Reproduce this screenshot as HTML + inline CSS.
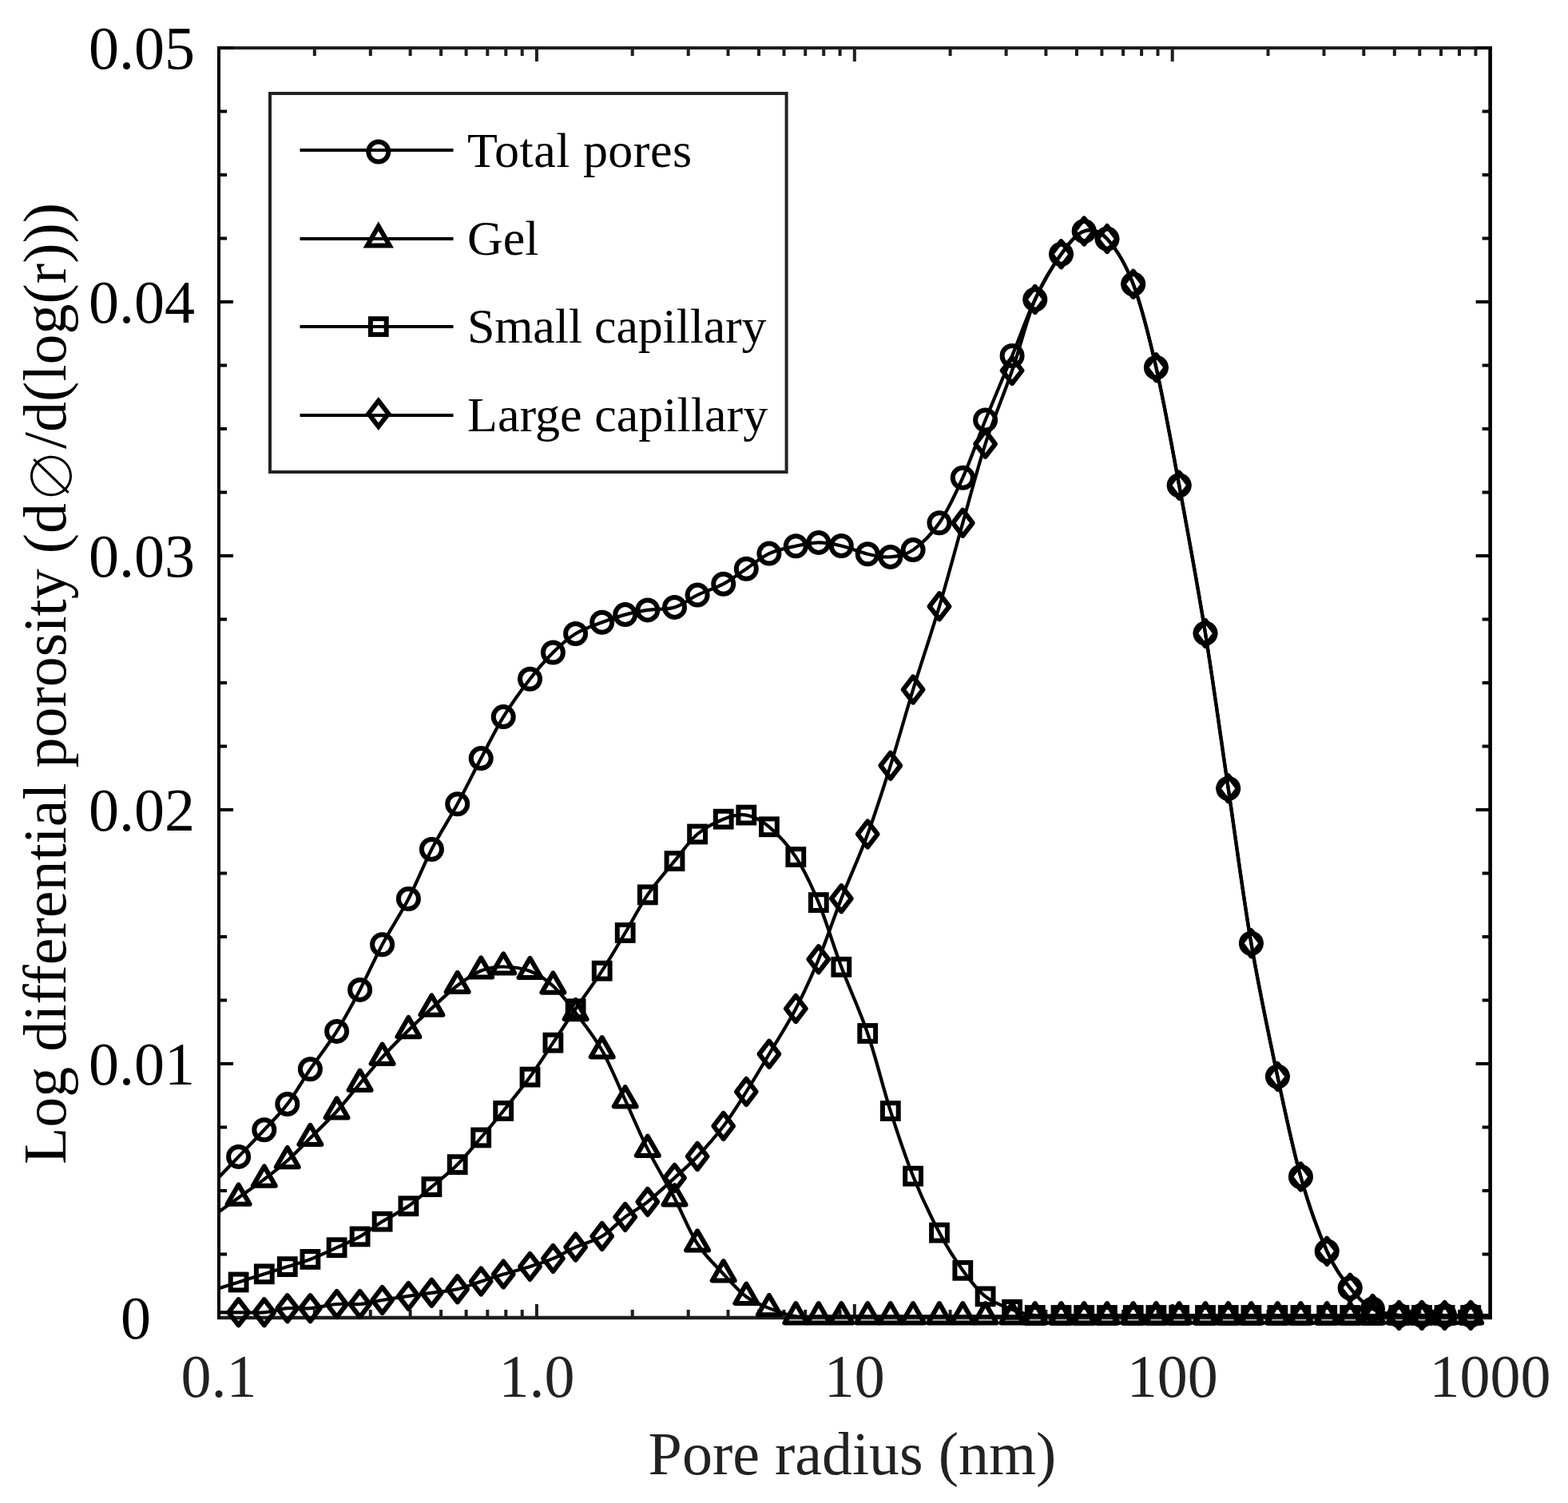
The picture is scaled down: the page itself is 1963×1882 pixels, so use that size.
<!DOCTYPE html><html><head><meta charset="utf-8"><title>Pore size distribution</title>
<style>html,body{margin:0;padding:0;background:#fff;}svg{display:block;}text{font-family:"Liberation Serif","Times New Roman",serif;}</style></head><body>
<svg width="1963" height="1882" viewBox="0 0 1963 1882">
<rect width="1963" height="1882" fill="#fff"/>
<defs><clipPath id="pc"><rect x="274.0" y="60.0" width="1591.6" height="1590.0"/></clipPath></defs>
<g stroke-linecap="butt" fill="none">
<line x1="272.0" y1="58" x2="1867.6" y2="58" stroke="#1e1e1e" stroke-width="4" transform="translate(0,2)"/>
<line x1="272.0" y1="1650.0" x2="1867.6" y2="1650.0" stroke="#1e1e1e" stroke-width="4.4"/>
<line x1="274.0" y1="58.0" x2="274.0" y2="1652.0" stroke="#000" stroke-width="4"/>
<line x1="1865.6" y1="58.0" x2="1865.6" y2="1652.0" stroke="#000" stroke-width="4.6"/>
<line x1="393.8" y1="1650.0" x2="393.8" y2="1640.0" stroke="#1e1e1e" stroke-width="4"/>
<line x1="393.8" y1="60.0" x2="393.8" y2="70.0" stroke="#1e1e1e" stroke-width="4"/>
<line x1="463.8" y1="1650.0" x2="463.8" y2="1640.0" stroke="#1e1e1e" stroke-width="4"/>
<line x1="463.8" y1="60.0" x2="463.8" y2="70.0" stroke="#1e1e1e" stroke-width="4"/>
<line x1="513.6" y1="1650.0" x2="513.6" y2="1640.0" stroke="#1e1e1e" stroke-width="4"/>
<line x1="513.6" y1="60.0" x2="513.6" y2="70.0" stroke="#1e1e1e" stroke-width="4"/>
<line x1="552.1" y1="1650.0" x2="552.1" y2="1640.0" stroke="#1e1e1e" stroke-width="4"/>
<line x1="552.1" y1="60.0" x2="552.1" y2="70.0" stroke="#1e1e1e" stroke-width="4"/>
<line x1="583.6" y1="1650.0" x2="583.6" y2="1640.0" stroke="#1e1e1e" stroke-width="4"/>
<line x1="583.6" y1="60.0" x2="583.6" y2="70.0" stroke="#1e1e1e" stroke-width="4"/>
<line x1="610.3" y1="1650.0" x2="610.3" y2="1640.0" stroke="#1e1e1e" stroke-width="4"/>
<line x1="610.3" y1="60.0" x2="610.3" y2="70.0" stroke="#1e1e1e" stroke-width="4"/>
<line x1="633.3" y1="1650.0" x2="633.3" y2="1640.0" stroke="#1e1e1e" stroke-width="4"/>
<line x1="633.3" y1="60.0" x2="633.3" y2="70.0" stroke="#1e1e1e" stroke-width="4"/>
<line x1="653.7" y1="1650.0" x2="653.7" y2="1640.0" stroke="#1e1e1e" stroke-width="4"/>
<line x1="653.7" y1="60.0" x2="653.7" y2="70.0" stroke="#1e1e1e" stroke-width="4"/>
<line x1="671.9" y1="1650.0" x2="671.9" y2="1633.0" stroke="#1e1e1e" stroke-width="4"/>
<line x1="671.9" y1="60.0" x2="671.9" y2="77.0" stroke="#1e1e1e" stroke-width="4"/>
<line x1="791.7" y1="1650.0" x2="791.7" y2="1640.0" stroke="#1e1e1e" stroke-width="4"/>
<line x1="791.7" y1="60.0" x2="791.7" y2="70.0" stroke="#1e1e1e" stroke-width="4"/>
<line x1="861.7" y1="1650.0" x2="861.7" y2="1640.0" stroke="#1e1e1e" stroke-width="4"/>
<line x1="861.7" y1="60.0" x2="861.7" y2="70.0" stroke="#1e1e1e" stroke-width="4"/>
<line x1="911.5" y1="1650.0" x2="911.5" y2="1640.0" stroke="#1e1e1e" stroke-width="4"/>
<line x1="911.5" y1="60.0" x2="911.5" y2="70.0" stroke="#1e1e1e" stroke-width="4"/>
<line x1="950.0" y1="1650.0" x2="950.0" y2="1640.0" stroke="#1e1e1e" stroke-width="4"/>
<line x1="950.0" y1="60.0" x2="950.0" y2="70.0" stroke="#1e1e1e" stroke-width="4"/>
<line x1="981.5" y1="1650.0" x2="981.5" y2="1640.0" stroke="#1e1e1e" stroke-width="4"/>
<line x1="981.5" y1="60.0" x2="981.5" y2="70.0" stroke="#1e1e1e" stroke-width="4"/>
<line x1="1008.2" y1="1650.0" x2="1008.2" y2="1640.0" stroke="#1e1e1e" stroke-width="4"/>
<line x1="1008.2" y1="60.0" x2="1008.2" y2="70.0" stroke="#1e1e1e" stroke-width="4"/>
<line x1="1031.2" y1="1650.0" x2="1031.2" y2="1640.0" stroke="#1e1e1e" stroke-width="4"/>
<line x1="1031.2" y1="60.0" x2="1031.2" y2="70.0" stroke="#1e1e1e" stroke-width="4"/>
<line x1="1051.6" y1="1650.0" x2="1051.6" y2="1640.0" stroke="#1e1e1e" stroke-width="4"/>
<line x1="1051.6" y1="60.0" x2="1051.6" y2="70.0" stroke="#1e1e1e" stroke-width="4"/>
<line x1="1069.8" y1="1650.0" x2="1069.8" y2="1633.0" stroke="#1e1e1e" stroke-width="4"/>
<line x1="1069.8" y1="60.0" x2="1069.8" y2="77.0" stroke="#1e1e1e" stroke-width="4"/>
<line x1="1189.6" y1="1650.0" x2="1189.6" y2="1640.0" stroke="#1e1e1e" stroke-width="4"/>
<line x1="1189.6" y1="60.0" x2="1189.6" y2="70.0" stroke="#1e1e1e" stroke-width="4"/>
<line x1="1259.6" y1="1650.0" x2="1259.6" y2="1640.0" stroke="#1e1e1e" stroke-width="4"/>
<line x1="1259.6" y1="60.0" x2="1259.6" y2="70.0" stroke="#1e1e1e" stroke-width="4"/>
<line x1="1309.4" y1="1650.0" x2="1309.4" y2="1640.0" stroke="#1e1e1e" stroke-width="4"/>
<line x1="1309.4" y1="60.0" x2="1309.4" y2="70.0" stroke="#1e1e1e" stroke-width="4"/>
<line x1="1347.9" y1="1650.0" x2="1347.9" y2="1640.0" stroke="#1e1e1e" stroke-width="4"/>
<line x1="1347.9" y1="60.0" x2="1347.9" y2="70.0" stroke="#1e1e1e" stroke-width="4"/>
<line x1="1379.4" y1="1650.0" x2="1379.4" y2="1640.0" stroke="#1e1e1e" stroke-width="4"/>
<line x1="1379.4" y1="60.0" x2="1379.4" y2="70.0" stroke="#1e1e1e" stroke-width="4"/>
<line x1="1406.1" y1="1650.0" x2="1406.1" y2="1640.0" stroke="#1e1e1e" stroke-width="4"/>
<line x1="1406.1" y1="60.0" x2="1406.1" y2="70.0" stroke="#1e1e1e" stroke-width="4"/>
<line x1="1429.1" y1="1650.0" x2="1429.1" y2="1640.0" stroke="#1e1e1e" stroke-width="4"/>
<line x1="1429.1" y1="60.0" x2="1429.1" y2="70.0" stroke="#1e1e1e" stroke-width="4"/>
<line x1="1449.5" y1="1650.0" x2="1449.5" y2="1640.0" stroke="#1e1e1e" stroke-width="4"/>
<line x1="1449.5" y1="60.0" x2="1449.5" y2="70.0" stroke="#1e1e1e" stroke-width="4"/>
<line x1="1467.7" y1="1650.0" x2="1467.7" y2="1633.0" stroke="#1e1e1e" stroke-width="4"/>
<line x1="1467.7" y1="60.0" x2="1467.7" y2="77.0" stroke="#1e1e1e" stroke-width="4"/>
<line x1="1587.5" y1="1650.0" x2="1587.5" y2="1640.0" stroke="#1e1e1e" stroke-width="4"/>
<line x1="1587.5" y1="60.0" x2="1587.5" y2="70.0" stroke="#1e1e1e" stroke-width="4"/>
<line x1="1657.5" y1="1650.0" x2="1657.5" y2="1640.0" stroke="#1e1e1e" stroke-width="4"/>
<line x1="1657.5" y1="60.0" x2="1657.5" y2="70.0" stroke="#1e1e1e" stroke-width="4"/>
<line x1="1707.3" y1="1650.0" x2="1707.3" y2="1640.0" stroke="#1e1e1e" stroke-width="4"/>
<line x1="1707.3" y1="60.0" x2="1707.3" y2="70.0" stroke="#1e1e1e" stroke-width="4"/>
<line x1="1745.8" y1="1650.0" x2="1745.8" y2="1640.0" stroke="#1e1e1e" stroke-width="4"/>
<line x1="1745.8" y1="60.0" x2="1745.8" y2="70.0" stroke="#1e1e1e" stroke-width="4"/>
<line x1="1777.3" y1="1650.0" x2="1777.3" y2="1640.0" stroke="#1e1e1e" stroke-width="4"/>
<line x1="1777.3" y1="60.0" x2="1777.3" y2="70.0" stroke="#1e1e1e" stroke-width="4"/>
<line x1="1804.0" y1="1650.0" x2="1804.0" y2="1640.0" stroke="#1e1e1e" stroke-width="4"/>
<line x1="1804.0" y1="60.0" x2="1804.0" y2="70.0" stroke="#1e1e1e" stroke-width="4"/>
<line x1="1827.0" y1="1650.0" x2="1827.0" y2="1640.0" stroke="#1e1e1e" stroke-width="4"/>
<line x1="1827.0" y1="60.0" x2="1827.0" y2="70.0" stroke="#1e1e1e" stroke-width="4"/>
<line x1="1847.4" y1="1650.0" x2="1847.4" y2="1640.0" stroke="#1e1e1e" stroke-width="4"/>
<line x1="1847.4" y1="60.0" x2="1847.4" y2="70.0" stroke="#1e1e1e" stroke-width="4"/>
<line x1="274.0" y1="1570.5" x2="284.0" y2="1570.5" stroke="#000" stroke-width="4"/>
<line x1="1865.6" y1="1570.5" x2="1855.6" y2="1570.5" stroke="#000" stroke-width="4"/>
<line x1="274.0" y1="1491.0" x2="284.0" y2="1491.0" stroke="#000" stroke-width="4"/>
<line x1="1865.6" y1="1491.0" x2="1855.6" y2="1491.0" stroke="#000" stroke-width="4"/>
<line x1="274.0" y1="1411.5" x2="284.0" y2="1411.5" stroke="#000" stroke-width="4"/>
<line x1="1865.6" y1="1411.5" x2="1855.6" y2="1411.5" stroke="#000" stroke-width="4"/>
<line x1="274.0" y1="1332.0" x2="292.0" y2="1332.0" stroke="#000" stroke-width="4"/>
<line x1="1865.6" y1="1332.0" x2="1847.6" y2="1332.0" stroke="#000" stroke-width="4"/>
<line x1="274.0" y1="1252.5" x2="284.0" y2="1252.5" stroke="#000" stroke-width="4"/>
<line x1="1865.6" y1="1252.5" x2="1855.6" y2="1252.5" stroke="#000" stroke-width="4"/>
<line x1="274.0" y1="1173.0" x2="284.0" y2="1173.0" stroke="#000" stroke-width="4"/>
<line x1="1865.6" y1="1173.0" x2="1855.6" y2="1173.0" stroke="#000" stroke-width="4"/>
<line x1="274.0" y1="1093.5" x2="284.0" y2="1093.5" stroke="#000" stroke-width="4"/>
<line x1="1865.6" y1="1093.5" x2="1855.6" y2="1093.5" stroke="#000" stroke-width="4"/>
<line x1="274.0" y1="1014.0" x2="292.0" y2="1014.0" stroke="#000" stroke-width="4"/>
<line x1="1865.6" y1="1014.0" x2="1847.6" y2="1014.0" stroke="#000" stroke-width="4"/>
<line x1="274.0" y1="934.5" x2="284.0" y2="934.5" stroke="#000" stroke-width="4"/>
<line x1="1865.6" y1="934.5" x2="1855.6" y2="934.5" stroke="#000" stroke-width="4"/>
<line x1="274.0" y1="855.0" x2="284.0" y2="855.0" stroke="#000" stroke-width="4"/>
<line x1="1865.6" y1="855.0" x2="1855.6" y2="855.0" stroke="#000" stroke-width="4"/>
<line x1="274.0" y1="775.5" x2="284.0" y2="775.5" stroke="#000" stroke-width="4"/>
<line x1="1865.6" y1="775.5" x2="1855.6" y2="775.5" stroke="#000" stroke-width="4"/>
<line x1="274.0" y1="696.0" x2="292.0" y2="696.0" stroke="#000" stroke-width="4"/>
<line x1="1865.6" y1="696.0" x2="1847.6" y2="696.0" stroke="#000" stroke-width="4"/>
<line x1="274.0" y1="616.5" x2="284.0" y2="616.5" stroke="#000" stroke-width="4"/>
<line x1="1865.6" y1="616.5" x2="1855.6" y2="616.5" stroke="#000" stroke-width="4"/>
<line x1="274.0" y1="537.0" x2="284.0" y2="537.0" stroke="#000" stroke-width="4"/>
<line x1="1865.6" y1="537.0" x2="1855.6" y2="537.0" stroke="#000" stroke-width="4"/>
<line x1="274.0" y1="457.5" x2="284.0" y2="457.5" stroke="#000" stroke-width="4"/>
<line x1="1865.6" y1="457.5" x2="1855.6" y2="457.5" stroke="#000" stroke-width="4"/>
<line x1="274.0" y1="378.0" x2="292.0" y2="378.0" stroke="#000" stroke-width="4"/>
<line x1="1865.6" y1="378.0" x2="1847.6" y2="378.0" stroke="#000" stroke-width="4"/>
<line x1="274.0" y1="298.5" x2="284.0" y2="298.5" stroke="#000" stroke-width="4"/>
<line x1="1865.6" y1="298.5" x2="1855.6" y2="298.5" stroke="#000" stroke-width="4"/>
<line x1="274.0" y1="219.0" x2="284.0" y2="219.0" stroke="#000" stroke-width="4"/>
<line x1="1865.6" y1="219.0" x2="1855.6" y2="219.0" stroke="#000" stroke-width="4"/>
<line x1="274.0" y1="139.5" x2="284.0" y2="139.5" stroke="#000" stroke-width="4"/>
<line x1="1865.6" y1="139.5" x2="1855.6" y2="139.5" stroke="#000" stroke-width="4"/>
<line x1="274.0" y1="60.0" x2="292.0" y2="60.0" stroke="#000" stroke-width="4"/>
<line x1="1865.6" y1="60.0" x2="1847.6" y2="60.0" stroke="#000" stroke-width="4"/>
</g>
<g fill="none" stroke="#000" stroke-width="4.2" stroke-linejoin="round" clip-path="url(#pc)">
<path d="M266.4,1482.1 C271.8,1476.5 287.9,1459.6 298.6,1448.4 C309.3,1437.2 320.6,1425.7 330.8,1414.7 C341.0,1403.7 350.2,1395.2 359.8,1382.5 C369.4,1369.8 378.1,1354.0 388.4,1338.8 C398.7,1323.6 411.2,1308.0 421.6,1291.4 C432.0,1274.8 441.1,1257.5 450.6,1239.4 C460.1,1221.3 468.5,1201.7 478.6,1182.7 C488.7,1163.7 501.1,1145.4 511.4,1125.5 C521.7,1105.6 530.2,1083.3 540.4,1063.5 C550.6,1043.7 562.4,1025.7 572.7,1006.7 C583.0,987.7 592.6,967.8 602.2,949.6 C611.8,931.4 620.0,914.2 630.2,897.6 C640.4,881.0 653.1,863.6 663.5,850.2 C673.9,836.8 682.9,826.5 692.4,817.0 C701.9,807.5 710.4,799.8 720.6,793.5 C730.8,787.2 743.4,783.2 753.7,779.2 C764.1,775.2 773.2,772.2 782.7,769.6 C792.2,767.0 800.5,765.4 810.8,763.9 C821.1,762.4 834.1,763.5 844.5,760.4 C854.9,757.3 862.9,750.0 873.1,745.1 C883.3,740.2 895.5,736.7 905.7,731.2 C915.9,725.7 924.8,718.6 934.3,712.2 C943.8,705.9 952.6,697.9 962.9,693.1 C973.2,688.4 986.0,686.0 996.3,683.7 C1006.6,681.4 1015.3,679.4 1024.8,679.4 C1034.3,679.4 1043.1,681.1 1053.3,683.5 C1063.5,685.9 1076.0,691.4 1086.2,693.7 C1096.5,696.0 1105.3,698.2 1114.8,697.4 C1124.3,696.5 1132.9,695.7 1143.1,688.6 C1153.3,681.5 1165.6,669.8 1176.0,654.7 C1186.4,639.6 1195.7,619.7 1205.3,598.2 C1214.9,576.8 1223.3,551.5 1233.6,526.0 C1243.9,500.6 1256.7,470.7 1267.1,445.5 C1277.5,420.3 1285.6,396.2 1295.8,375.0 C1306.0,353.8 1318.3,332.6 1328.5,318.3 C1338.7,304.1 1347.6,292.7 1357.2,289.5 C1366.8,286.3 1375.8,288.1 1386.0,299.1 C1396.2,310.2 1408.5,329.0 1418.7,355.8 C1428.9,382.6 1437.8,418.2 1447.4,460.2 C1457.0,502.2 1465.9,552.2 1476.2,607.7 C1486.5,663.2 1498.8,729.7 1509.0,793.0 C1519.2,856.3 1528.1,922.6 1537.7,987.3 C1547.3,1052.0 1556.1,1121.1 1566.4,1181.2 C1576.7,1241.3 1589.1,1299.3 1599.4,1348.0 C1609.7,1396.7 1618.1,1437.0 1628.4,1473.5 C1638.7,1510.0 1650.9,1543.5 1661.2,1566.7 C1671.5,1589.9 1680.7,1600.7 1690.2,1612.7 C1699.7,1624.8 1708.2,1633.3 1718.4,1639.0 C1728.6,1644.7 1741.1,1645.7 1751.4,1647.0 C1761.7,1648.3 1770.5,1647.0 1780.0,1647.0 C1789.5,1647.0 1798.4,1647.0 1808.6,1647.0 C1818.8,1647.0 1830.3,1647.0 1841.2,1647.0 C1852.1,1647.0 1868.4,1647.0 1873.8,1647.0"/>
<path d="M266.4,1522.8 C271.8,1519.0 287.9,1507.4 298.6,1499.7 C309.3,1492.0 320.6,1484.3 330.8,1476.6 C341.0,1468.8 350.2,1461.8 359.8,1453.2 C369.4,1444.6 378.1,1435.3 388.4,1425.0 C398.7,1414.7 411.2,1402.9 421.6,1391.5 C432.0,1380.1 441.1,1368.1 450.6,1356.8 C460.1,1345.5 468.5,1334.9 478.6,1323.8 C488.7,1312.7 501.1,1300.3 511.4,1290.1 C521.7,1279.9 530.2,1271.9 540.4,1262.6 C550.6,1253.2 562.4,1241.8 572.7,1234.0 C583.0,1226.2 592.6,1219.4 602.2,1215.5 C611.8,1211.6 620.0,1210.4 630.2,1210.5 C640.4,1210.6 653.1,1212.0 663.5,1216.0 C673.9,1220.0 682.9,1225.9 692.4,1234.6 C701.9,1243.3 710.4,1254.6 720.6,1268.1 C730.8,1281.5 743.4,1297.1 753.7,1315.3 C764.1,1333.5 773.2,1356.8 782.7,1377.4 C792.2,1398.0 800.5,1418.4 810.8,1438.9 C821.1,1459.4 834.1,1480.6 844.5,1500.4 C854.9,1520.2 862.9,1541.7 873.1,1557.5 C883.3,1573.3 895.5,1584.2 905.7,1595.3 C915.9,1606.3 924.8,1616.7 934.3,1623.8 C943.8,1630.9 952.6,1634.0 962.9,1638.1 C973.2,1642.2 986.0,1646.6 996.3,1648.3 C1006.6,1650.0 1015.3,1648.3 1024.8,1648.3 C1034.3,1648.3 1043.1,1648.3 1053.3,1648.3 C1063.5,1648.3 1076.0,1648.3 1086.2,1648.3 C1096.5,1648.3 1105.3,1648.3 1114.8,1648.3 C1124.3,1648.3 1132.9,1648.3 1143.1,1648.3 C1153.3,1648.3 1165.6,1648.3 1176.0,1648.3 C1186.4,1648.3 1195.7,1648.3 1205.3,1648.3 C1214.9,1648.3 1223.3,1648.3 1233.6,1648.3 C1243.9,1648.3 1256.7,1648.3 1267.1,1648.3 C1277.5,1648.3 1285.6,1648.3 1295.8,1648.3 C1306.0,1648.3 1318.3,1648.3 1328.5,1648.3 C1338.7,1648.3 1347.6,1648.3 1357.2,1648.3 C1366.8,1648.3 1375.8,1648.3 1386.0,1648.3 C1396.2,1648.3 1408.5,1648.3 1418.7,1648.3 C1428.9,1648.3 1437.8,1648.3 1447.4,1648.3 C1457.0,1648.3 1465.9,1648.3 1476.2,1648.3 C1486.5,1648.3 1498.8,1648.3 1509.0,1648.3 C1519.2,1648.3 1528.1,1648.3 1537.7,1648.3 C1547.3,1648.3 1556.1,1648.3 1566.4,1648.3 C1576.7,1648.3 1589.1,1648.3 1599.4,1648.3 C1609.7,1648.3 1618.1,1648.3 1628.4,1648.3 C1638.7,1648.3 1650.9,1648.3 1661.2,1648.3 C1671.5,1648.3 1680.7,1648.3 1690.2,1648.3 C1699.7,1648.3 1708.2,1648.3 1718.4,1648.3 C1728.6,1648.3 1741.1,1648.3 1751.4,1648.3 C1761.7,1648.3 1770.5,1648.3 1780.0,1648.3 C1789.5,1648.3 1798.4,1648.3 1808.6,1648.3 C1818.8,1648.3 1830.3,1648.3 1841.2,1648.3 C1852.1,1648.3 1868.4,1648.3 1873.8,1648.3"/>
<path d="M266.4,1615.7 C271.8,1614.0 287.9,1608.9 298.6,1605.5 C309.3,1602.1 320.6,1598.5 330.8,1595.3 C341.0,1592.1 350.2,1589.2 359.8,1586.1 C369.4,1583.0 378.1,1580.9 388.4,1576.9 C398.7,1572.9 411.2,1567.0 421.6,1562.2 C432.0,1557.5 441.1,1553.8 450.6,1548.4 C460.1,1543.0 468.5,1536.0 478.6,1529.6 C488.7,1523.2 501.1,1517.5 511.4,1510.2 C521.7,1503.0 530.2,1494.8 540.4,1486.1 C550.6,1477.4 562.4,1468.5 572.7,1458.2 C583.0,1447.9 592.6,1435.7 602.2,1424.5 C611.8,1413.3 620.0,1403.7 630.2,1391.0 C640.4,1378.3 653.1,1362.8 663.5,1348.6 C673.9,1334.4 682.9,1319.9 692.4,1305.7 C701.9,1291.5 710.4,1278.3 720.6,1263.3 C730.8,1248.3 743.4,1231.6 753.7,1215.7 C764.1,1199.8 773.2,1183.9 782.7,1168.0 C792.2,1152.1 800.5,1135.4 810.8,1120.4 C821.1,1105.4 834.1,1090.9 844.5,1078.2 C854.9,1065.5 862.9,1053.2 873.1,1044.5 C883.3,1035.8 895.5,1029.7 905.7,1025.7 C915.9,1021.7 924.8,1019.0 934.3,1020.6 C943.8,1022.2 952.6,1026.5 962.9,1035.3 C973.2,1044.0 986.0,1057.3 996.3,1073.1 C1006.6,1088.9 1015.3,1107.1 1024.8,1130.1 C1034.3,1153.0 1043.1,1183.5 1053.3,1210.8 C1063.5,1238.1 1076.0,1264.0 1086.2,1294.0 C1096.5,1324.0 1105.3,1361.3 1114.8,1391.1 C1124.3,1420.9 1132.9,1447.3 1143.1,1472.7 C1153.3,1498.1 1165.6,1523.9 1176.0,1543.6 C1186.4,1563.3 1195.7,1577.5 1205.3,1590.8 C1214.9,1604.1 1223.3,1615.2 1233.6,1623.4 C1243.9,1631.6 1256.7,1635.9 1267.1,1639.8 C1277.5,1643.7 1285.6,1645.8 1295.8,1647.0 C1306.0,1648.2 1318.3,1647.0 1328.5,1647.0 C1338.7,1647.0 1347.6,1647.0 1357.2,1647.0 C1366.8,1647.0 1375.8,1647.0 1386.0,1647.0 C1396.2,1647.0 1408.5,1647.0 1418.7,1647.0 C1428.9,1647.0 1437.8,1647.0 1447.4,1647.0 C1457.0,1647.0 1465.9,1647.0 1476.2,1647.0 C1486.5,1647.0 1498.8,1647.0 1509.0,1647.0 C1519.2,1647.0 1528.1,1647.0 1537.7,1647.0 C1547.3,1647.0 1556.1,1647.0 1566.4,1647.0 C1576.7,1647.0 1589.1,1647.0 1599.4,1647.0 C1609.7,1647.0 1618.1,1647.0 1628.4,1647.0 C1638.7,1647.0 1650.9,1647.0 1661.2,1647.0 C1671.5,1647.0 1680.7,1647.0 1690.2,1647.0 C1699.7,1647.0 1708.2,1647.0 1718.4,1647.0 C1728.6,1647.0 1741.1,1647.0 1751.4,1647.0 C1761.7,1647.0 1770.5,1647.0 1780.0,1647.0 C1789.5,1647.0 1798.4,1647.0 1808.6,1647.0 C1818.8,1647.0 1830.3,1647.0 1841.2,1647.0 C1852.1,1647.0 1868.4,1647.0 1873.8,1647.0"/>
<path d="M266.4,1643.3 C271.8,1643.3 287.9,1643.3 298.6,1643.3 C309.3,1643.3 320.6,1644.1 330.8,1643.3 C341.0,1642.5 350.2,1639.0 359.8,1638.2 C369.4,1637.4 378.1,1639.1 388.4,1638.2 C398.7,1637.3 411.2,1633.9 421.6,1633.0 C432.0,1632.1 441.1,1633.8 450.6,1633.0 C460.1,1632.2 468.5,1629.7 478.6,1628.0 C488.7,1626.3 501.1,1624.4 511.4,1622.9 C521.7,1621.4 530.2,1620.2 540.4,1618.8 C550.6,1617.4 562.4,1616.7 572.7,1614.3 C583.0,1611.9 592.6,1607.6 602.2,1604.5 C611.8,1601.4 620.0,1598.7 630.2,1595.6 C640.4,1592.5 653.1,1589.2 663.5,1585.9 C673.9,1582.6 682.9,1580.0 692.4,1575.9 C701.9,1571.9 710.4,1566.2 720.6,1561.6 C730.8,1556.9 743.4,1554.3 753.7,1548.0 C764.1,1541.7 773.2,1531.1 782.7,1523.9 C792.2,1516.7 800.5,1513.1 810.8,1504.9 C821.1,1496.7 834.1,1484.4 844.5,1474.9 C854.9,1465.4 862.9,1458.8 873.1,1448.0 C883.3,1437.2 895.5,1423.5 905.7,1410.0 C915.9,1396.5 924.8,1382.0 934.3,1367.0 C943.8,1352.0 952.6,1337.1 962.9,1319.8 C973.2,1302.5 986.0,1282.8 996.3,1263.0 C1006.6,1243.2 1015.3,1224.2 1024.8,1201.2 C1034.3,1178.2 1043.1,1151.3 1053.3,1125.2 C1063.5,1099.1 1076.0,1072.2 1086.2,1044.5 C1096.5,1016.8 1105.3,988.9 1114.8,958.7 C1124.3,928.5 1132.9,896.7 1143.1,863.5 C1153.3,830.3 1165.6,794.1 1176.0,759.3 C1186.4,724.5 1195.7,688.7 1205.3,654.8 C1214.9,620.9 1223.3,587.6 1233.6,555.8 C1243.9,524.0 1256.7,494.1 1267.1,464.0 C1277.5,433.9 1285.6,399.3 1295.8,375.0 C1306.0,350.7 1318.3,332.6 1328.5,318.3 C1338.7,304.1 1347.6,292.7 1357.2,289.5 C1366.8,286.3 1375.8,288.1 1386.0,299.1 C1396.2,310.2 1408.5,329.0 1418.7,355.8 C1428.9,382.6 1437.8,418.2 1447.4,460.2 C1457.0,502.2 1465.9,552.2 1476.2,607.7 C1486.5,663.2 1498.8,729.7 1509.0,793.0 C1519.2,856.3 1528.1,922.6 1537.7,987.3 C1547.3,1052.0 1556.1,1121.1 1566.4,1181.2 C1576.7,1241.3 1589.1,1299.3 1599.4,1348.0 C1609.7,1396.7 1618.1,1437.0 1628.4,1473.5 C1638.7,1510.0 1650.9,1543.5 1661.2,1566.7 C1671.5,1589.9 1680.7,1600.7 1690.2,1612.7 C1699.7,1624.8 1708.2,1633.3 1718.4,1639.0 C1728.6,1644.7 1741.1,1645.7 1751.4,1647.0 C1761.7,1648.3 1770.5,1647.0 1780.0,1647.0 C1789.5,1647.0 1798.4,1647.0 1808.6,1647.0 C1818.8,1647.0 1830.3,1647.0 1841.2,1647.0 C1852.1,1647.0 1868.4,1647.0 1873.8,1647.0"/>
</g>
<g fill="none" stroke="#000" stroke-width="6.0" stroke-linejoin="round">
<circle cx="298.6" cy="1448.4" r="12.5"/>
<circle cx="330.8" cy="1414.7" r="12.5"/>
<circle cx="359.8" cy="1382.5" r="12.5"/>
<circle cx="388.4" cy="1338.8" r="12.5"/>
<circle cx="421.6" cy="1291.4" r="12.5"/>
<circle cx="450.6" cy="1239.4" r="12.5"/>
<circle cx="478.6" cy="1182.7" r="12.5"/>
<circle cx="511.4" cy="1125.5" r="12.5"/>
<circle cx="540.4" cy="1063.5" r="12.5"/>
<circle cx="572.7" cy="1006.7" r="12.5"/>
<circle cx="602.2" cy="949.6" r="12.5"/>
<circle cx="630.2" cy="897.6" r="12.5"/>
<circle cx="663.5" cy="850.2" r="12.5"/>
<circle cx="692.4" cy="817.0" r="12.5"/>
<circle cx="720.6" cy="793.5" r="12.5"/>
<circle cx="753.7" cy="779.2" r="12.5"/>
<circle cx="782.7" cy="769.6" r="12.5"/>
<circle cx="810.8" cy="763.9" r="12.5"/>
<circle cx="844.5" cy="760.4" r="12.5"/>
<circle cx="873.1" cy="745.1" r="12.5"/>
<circle cx="905.7" cy="731.2" r="12.5"/>
<circle cx="934.3" cy="712.2" r="12.5"/>
<circle cx="962.9" cy="693.1" r="12.5"/>
<circle cx="996.3" cy="683.7" r="12.5"/>
<circle cx="1024.8" cy="679.4" r="12.5"/>
<circle cx="1053.3" cy="683.5" r="12.5"/>
<circle cx="1086.2" cy="693.7" r="12.5"/>
<circle cx="1114.8" cy="697.4" r="12.5"/>
<circle cx="1143.1" cy="688.6" r="12.5"/>
<circle cx="1176.0" cy="654.7" r="12.5"/>
<circle cx="1205.3" cy="598.2" r="12.5"/>
<circle cx="1233.6" cy="526.0" r="12.5"/>
<circle cx="1267.1" cy="445.5" r="12.5"/>
<circle cx="1295.8" cy="375.0" r="12.5"/>
<circle cx="1328.5" cy="318.3" r="12.5"/>
<circle cx="1357.2" cy="289.5" r="12.5"/>
<circle cx="1386.0" cy="299.1" r="12.5"/>
<circle cx="1418.7" cy="355.8" r="12.5"/>
<circle cx="1447.4" cy="460.2" r="12.5"/>
<circle cx="1476.2" cy="607.7" r="12.5"/>
<circle cx="1509.0" cy="793.0" r="12.5"/>
<circle cx="1537.7" cy="987.3" r="12.5"/>
<circle cx="1566.4" cy="1181.2" r="12.5"/>
<circle cx="1599.4" cy="1348.0" r="12.5"/>
<circle cx="1628.4" cy="1473.5" r="12.5"/>
<circle cx="1661.2" cy="1566.7" r="12.5"/>
<circle cx="1690.2" cy="1612.7" r="12.5"/>
<circle cx="1718.4" cy="1639.0" r="12.5"/>
<circle cx="1751.4" cy="1647.0" r="12.5"/>
<circle cx="1780.0" cy="1647.0" r="12.5"/>
<circle cx="1808.6" cy="1647.0" r="12.5"/>
<circle cx="1841.2" cy="1647.0" r="12.5"/>
</g><g fill="none" stroke="#000" stroke-width="6.0" stroke-linejoin="round">
<path d="M298.6,1483.5 L284.6,1507.8 L312.6,1507.8 Z"/>
<path d="M330.8,1460.4 L316.8,1484.7 L344.8,1484.7 Z"/>
<path d="M359.8,1437.0 L345.8,1461.3 L373.8,1461.3 Z"/>
<path d="M388.4,1408.8 L374.4,1433.1 L402.4,1433.1 Z"/>
<path d="M421.6,1375.3 L407.6,1399.6 L435.6,1399.6 Z"/>
<path d="M450.6,1340.6 L436.6,1364.9 L464.6,1364.9 Z"/>
<path d="M478.6,1307.6 L464.6,1331.9 L492.6,1331.9 Z"/>
<path d="M511.4,1273.9 L497.4,1298.2 L525.4,1298.2 Z"/>
<path d="M540.4,1246.4 L526.4,1270.7 L554.4,1270.7 Z"/>
<path d="M572.7,1217.8 L558.7,1242.1 L586.7,1242.1 Z"/>
<path d="M602.2,1199.3 L588.2,1223.6 L616.2,1223.6 Z"/>
<path d="M630.2,1194.3 L616.2,1218.6 L644.2,1218.6 Z"/>
<path d="M663.5,1199.8 L649.5,1224.1 L677.5,1224.1 Z"/>
<path d="M692.4,1218.4 L678.4,1242.7 L706.4,1242.7 Z"/>
<path d="M720.6,1251.9 L706.6,1276.2 L734.6,1276.2 Z"/>
<path d="M753.7,1299.1 L739.7,1323.4 L767.7,1323.4 Z"/>
<path d="M782.7,1361.2 L768.7,1385.5 L796.7,1385.5 Z"/>
<path d="M810.8,1422.7 L796.8,1447.0 L824.8,1447.0 Z"/>
<path d="M844.5,1484.2 L830.5,1508.5 L858.5,1508.5 Z"/>
<path d="M873.1,1541.3 L859.1,1565.6 L887.1,1565.6 Z"/>
<path d="M905.7,1579.1 L891.7,1603.4 L919.7,1603.4 Z"/>
<path d="M934.3,1607.6 L920.3,1631.9 L948.3,1631.9 Z"/>
<path d="M962.9,1621.9 L948.9,1646.2 L976.9,1646.2 Z"/>
<path d="M996.3,1632.1 L982.3,1656.4 L1010.3,1656.4 Z"/>
<path d="M1024.8,1632.1 L1010.8,1656.4 L1038.8,1656.4 Z"/>
<path d="M1053.3,1632.1 L1039.3,1656.4 L1067.3,1656.4 Z"/>
<path d="M1086.2,1632.1 L1072.2,1656.4 L1100.2,1656.4 Z"/>
<path d="M1114.8,1632.1 L1100.8,1656.4 L1128.8,1656.4 Z"/>
<path d="M1143.1,1632.1 L1129.1,1656.4 L1157.1,1656.4 Z"/>
<path d="M1176.0,1632.1 L1162.0,1656.4 L1190.0,1656.4 Z"/>
<path d="M1205.3,1632.1 L1191.3,1656.4 L1219.3,1656.4 Z"/>
<path d="M1233.6,1632.1 L1219.6,1656.4 L1247.6,1656.4 Z"/>
<path d="M1267.1,1632.1 L1253.1,1656.4 L1281.1,1656.4 Z"/>
<path d="M1295.8,1632.1 L1281.8,1656.4 L1309.8,1656.4 Z"/>
<path d="M1328.5,1632.1 L1314.5,1656.4 L1342.5,1656.4 Z"/>
<path d="M1357.2,1632.1 L1343.2,1656.4 L1371.2,1656.4 Z"/>
<path d="M1386.0,1632.1 L1372.0,1656.4 L1400.0,1656.4 Z"/>
<path d="M1418.7,1632.1 L1404.7,1656.4 L1432.7,1656.4 Z"/>
<path d="M1447.4,1632.1 L1433.4,1656.4 L1461.4,1656.4 Z"/>
<path d="M1476.2,1632.1 L1462.2,1656.4 L1490.2,1656.4 Z"/>
<path d="M1509.0,1632.1 L1495.0,1656.4 L1523.0,1656.4 Z"/>
<path d="M1537.7,1632.1 L1523.7,1656.4 L1551.7,1656.4 Z"/>
<path d="M1566.4,1632.1 L1552.4,1656.4 L1580.4,1656.4 Z"/>
<path d="M1599.4,1632.1 L1585.4,1656.4 L1613.4,1656.4 Z"/>
<path d="M1628.4,1632.1 L1614.4,1656.4 L1642.4,1656.4 Z"/>
<path d="M1661.2,1632.1 L1647.2,1656.4 L1675.2,1656.4 Z"/>
<path d="M1690.2,1632.1 L1676.2,1656.4 L1704.2,1656.4 Z"/>
<path d="M1718.4,1632.1 L1704.4,1656.4 L1732.4,1656.4 Z"/>
<path d="M1751.4,1632.1 L1737.4,1656.4 L1765.4,1656.4 Z"/>
<path d="M1780.0,1632.1 L1766.0,1656.4 L1794.0,1656.4 Z"/>
<path d="M1808.6,1632.1 L1794.6,1656.4 L1822.6,1656.4 Z"/>
<path d="M1841.2,1632.1 L1827.2,1656.4 L1855.2,1656.4 Z"/>
</g><g fill="none" stroke="#000" stroke-width="6.0" stroke-linejoin="miter">
<rect x="288.7" y="1595.6" width="19.8" height="19.8"/>
<rect x="320.9" y="1585.4" width="19.8" height="19.8"/>
<rect x="349.9" y="1576.2" width="19.8" height="19.8"/>
<rect x="378.5" y="1567.0" width="19.8" height="19.8"/>
<rect x="411.7" y="1552.3" width="19.8" height="19.8"/>
<rect x="440.7" y="1538.5" width="19.8" height="19.8"/>
<rect x="468.7" y="1519.7" width="19.8" height="19.8"/>
<rect x="501.5" y="1500.3" width="19.8" height="19.8"/>
<rect x="530.5" y="1476.2" width="19.8" height="19.8"/>
<rect x="562.8" y="1448.3" width="19.8" height="19.8"/>
<rect x="592.3" y="1414.6" width="19.8" height="19.8"/>
<rect x="620.3" y="1381.1" width="19.8" height="19.8"/>
<rect x="653.6" y="1338.7" width="19.8" height="19.8"/>
<rect x="682.5" y="1295.8" width="19.8" height="19.8"/>
<rect x="710.7" y="1253.4" width="19.8" height="19.8"/>
<rect x="743.8" y="1205.8" width="19.8" height="19.8"/>
<rect x="772.8" y="1158.1" width="19.8" height="19.8"/>
<rect x="800.9" y="1110.5" width="19.8" height="19.8"/>
<rect x="834.6" y="1068.3" width="19.8" height="19.8"/>
<rect x="863.2" y="1034.6" width="19.8" height="19.8"/>
<rect x="895.8" y="1015.8" width="19.8" height="19.8"/>
<rect x="924.4" y="1010.7" width="19.8" height="19.8"/>
<rect x="953.0" y="1025.4" width="19.8" height="19.8"/>
<rect x="986.4" y="1063.2" width="19.8" height="19.8"/>
<rect x="1014.9" y="1120.2" width="19.8" height="19.8"/>
<rect x="1043.4" y="1200.9" width="19.8" height="19.8"/>
<rect x="1076.3" y="1284.1" width="19.8" height="19.8"/>
<rect x="1104.9" y="1381.2" width="19.8" height="19.8"/>
<rect x="1133.2" y="1462.8" width="19.8" height="19.8"/>
<rect x="1166.1" y="1533.7" width="19.8" height="19.8"/>
<rect x="1195.4" y="1580.9" width="19.8" height="19.8"/>
<rect x="1223.7" y="1613.5" width="19.8" height="19.8"/>
<rect x="1257.2" y="1629.9" width="19.8" height="19.8"/>
<rect x="1285.9" y="1637.1" width="19.8" height="19.8"/>
<rect x="1318.6" y="1637.1" width="19.8" height="19.8"/>
<rect x="1347.3" y="1637.1" width="19.8" height="19.8"/>
<rect x="1376.1" y="1637.1" width="19.8" height="19.8"/>
<rect x="1408.8" y="1637.1" width="19.8" height="19.8"/>
<rect x="1437.5" y="1637.1" width="19.8" height="19.8"/>
<rect x="1466.3" y="1637.1" width="19.8" height="19.8"/>
<rect x="1499.1" y="1637.1" width="19.8" height="19.8"/>
<rect x="1527.8" y="1637.1" width="19.8" height="19.8"/>
<rect x="1556.5" y="1637.1" width="19.8" height="19.8"/>
<rect x="1589.5" y="1637.1" width="19.8" height="19.8"/>
<rect x="1618.5" y="1637.1" width="19.8" height="19.8"/>
<rect x="1651.3" y="1637.1" width="19.8" height="19.8"/>
<rect x="1680.3" y="1637.1" width="19.8" height="19.8"/>
<rect x="1708.5" y="1637.1" width="19.8" height="19.8"/>
<rect x="1741.5" y="1637.1" width="19.8" height="19.8"/>
<rect x="1770.1" y="1637.1" width="19.8" height="19.8"/>
<rect x="1798.7" y="1637.1" width="19.8" height="19.8"/>
<rect x="1831.3" y="1637.1" width="19.8" height="19.8"/>
</g><g fill="none" stroke="#000" stroke-width="6.0" stroke-linejoin="round">
<path d="M298.6,1627.2 L311.0,1643.3 L298.6,1659.4 L286.2,1643.3 Z"/>
<path d="M330.8,1627.2 L343.2,1643.3 L330.8,1659.4 L318.4,1643.3 Z"/>
<path d="M359.8,1622.1 L372.2,1638.2 L359.8,1654.3 L347.4,1638.2 Z"/>
<path d="M388.4,1622.1 L400.8,1638.2 L388.4,1654.3 L376.0,1638.2 Z"/>
<path d="M421.6,1616.9 L434.0,1633.0 L421.6,1649.1 L409.2,1633.0 Z"/>
<path d="M450.6,1616.9 L463.0,1633.0 L450.6,1649.1 L438.2,1633.0 Z"/>
<path d="M478.6,1611.9 L491.0,1628.0 L478.6,1644.1 L466.2,1628.0 Z"/>
<path d="M511.4,1606.8 L523.8,1622.9 L511.4,1639.0 L499.0,1622.9 Z"/>
<path d="M540.4,1602.7 L552.8,1618.8 L540.4,1634.9 L528.0,1618.8 Z"/>
<path d="M572.7,1598.2 L585.1,1614.3 L572.7,1630.4 L560.3,1614.3 Z"/>
<path d="M602.2,1588.4 L614.6,1604.5 L602.2,1620.6 L589.8,1604.5 Z"/>
<path d="M630.2,1579.5 L642.6,1595.6 L630.2,1611.7 L617.8,1595.6 Z"/>
<path d="M663.5,1569.8 L675.9,1585.9 L663.5,1602.0 L651.1,1585.9 Z"/>
<path d="M692.4,1559.8 L704.8,1575.9 L692.4,1592.0 L680.0,1575.9 Z"/>
<path d="M720.6,1545.5 L733.0,1561.6 L720.6,1577.7 L708.2,1561.6 Z"/>
<path d="M753.7,1531.9 L766.1,1548.0 L753.7,1564.1 L741.3,1548.0 Z"/>
<path d="M782.7,1507.8 L795.1,1523.9 L782.7,1540.0 L770.3,1523.9 Z"/>
<path d="M810.8,1488.8 L823.2,1504.9 L810.8,1521.0 L798.4,1504.9 Z"/>
<path d="M844.5,1458.8 L856.9,1474.9 L844.5,1491.0 L832.1,1474.9 Z"/>
<path d="M873.1,1431.9 L885.5,1448.0 L873.1,1464.1 L860.7,1448.0 Z"/>
<path d="M905.7,1393.9 L918.1,1410.0 L905.7,1426.1 L893.3,1410.0 Z"/>
<path d="M934.3,1350.9 L946.7,1367.0 L934.3,1383.1 L921.9,1367.0 Z"/>
<path d="M962.9,1303.7 L975.3,1319.8 L962.9,1335.9 L950.5,1319.8 Z"/>
<path d="M996.3,1246.9 L1008.7,1263.0 L996.3,1279.1 L983.9,1263.0 Z"/>
<path d="M1024.8,1185.1 L1037.2,1201.2 L1024.8,1217.3 L1012.4,1201.2 Z"/>
<path d="M1053.3,1109.1 L1065.7,1125.2 L1053.3,1141.3 L1040.9,1125.2 Z"/>
<path d="M1086.2,1028.4 L1098.6,1044.5 L1086.2,1060.6 L1073.8,1044.5 Z"/>
<path d="M1114.8,942.6 L1127.2,958.7 L1114.8,974.8 L1102.4,958.7 Z"/>
<path d="M1143.1,847.4 L1155.5,863.5 L1143.1,879.6 L1130.7,863.5 Z"/>
<path d="M1176.0,743.2 L1188.4,759.3 L1176.0,775.4 L1163.6,759.3 Z"/>
<path d="M1205.3,638.7 L1217.7,654.8 L1205.3,670.9 L1192.9,654.8 Z"/>
<path d="M1233.6,539.7 L1246.0,555.8 L1233.6,571.9 L1221.2,555.8 Z"/>
<path d="M1267.1,447.9 L1279.5,464.0 L1267.1,480.1 L1254.7,464.0 Z"/>
<path d="M1295.8,358.9 L1308.2,375.0 L1295.8,391.1 L1283.4,375.0 Z"/>
<path d="M1328.5,302.2 L1340.9,318.3 L1328.5,334.4 L1316.1,318.3 Z"/>
<path d="M1357.2,273.4 L1369.6,289.5 L1357.2,305.6 L1344.8,289.5 Z"/>
<path d="M1386.0,283.0 L1398.4,299.1 L1386.0,315.2 L1373.6,299.1 Z"/>
<path d="M1418.7,339.7 L1431.1,355.8 L1418.7,371.9 L1406.3,355.8 Z"/>
<path d="M1447.4,444.1 L1459.8,460.2 L1447.4,476.3 L1435.0,460.2 Z"/>
<path d="M1476.2,591.6 L1488.6,607.7 L1476.2,623.8 L1463.8,607.7 Z"/>
<path d="M1509.0,776.9 L1521.4,793.0 L1509.0,809.1 L1496.6,793.0 Z"/>
<path d="M1537.7,971.2 L1550.1,987.3 L1537.7,1003.4 L1525.3,987.3 Z"/>
<path d="M1566.4,1165.1 L1578.8,1181.2 L1566.4,1197.3 L1554.0,1181.2 Z"/>
<path d="M1599.4,1331.9 L1611.8,1348.0 L1599.4,1364.1 L1587.0,1348.0 Z"/>
<path d="M1628.4,1457.4 L1640.8,1473.5 L1628.4,1489.6 L1616.0,1473.5 Z"/>
<path d="M1661.2,1550.6 L1673.6,1566.7 L1661.2,1582.8 L1648.8,1566.7 Z"/>
<path d="M1690.2,1596.6 L1702.6,1612.7 L1690.2,1628.8 L1677.8,1612.7 Z"/>
<path d="M1718.4,1622.9 L1730.8,1639.0 L1718.4,1655.1 L1706.0,1639.0 Z"/>
<path d="M1751.4,1630.9 L1763.8,1647.0 L1751.4,1663.1 L1739.0,1647.0 Z"/>
<path d="M1780.0,1630.9 L1792.4,1647.0 L1780.0,1663.1 L1767.6,1647.0 Z"/>
<path d="M1808.6,1630.9 L1821.0,1647.0 L1808.6,1663.1 L1796.2,1647.0 Z"/>
<path d="M1841.2,1630.9 L1853.6,1647.0 L1841.2,1663.1 L1828.8,1647.0 Z"/>
</g>
<g font-size="76" fill="#000" text-anchor="end">
<text x="189" y="1675.5">0</text>
<text x="244" y="1357.5">0.01</text>
<text x="244" y="1039.5">0.02</text>
<text x="244" y="721.5">0.03</text>
<text x="244" y="403.5">0.04</text>
<text x="244" y="85.5">0.05</text>
</g>
<g font-size="76" fill="#222" text-anchor="middle">
<text x="274.0" y="1749">0.1</text>
<text x="671.9" y="1749">1.0</text>
<text x="1069.8" y="1749">10</text>
<text x="1467.7" y="1749">100</text>
<text x="1865.6" y="1749">1000</text>
</g>
<text x="1067" y="1845.5" font-size="76" fill="#222" text-anchor="middle">Pore radius (nm)</text>
<text transform="translate(82,856) rotate(-90)" font-size="76" fill="#000" text-anchor="middle">Log differential porosity (d<tspan font-family="Noto Serif CJK SC, WenQuanYi Zen Hei, DejaVu Sans, sans-serif" dy="7.5" font-size="68">∅</tspan><tspan dy="-7.5">/d(log(r)))</tspan></text>
<rect x="338" y="117" width="646.6" height="474" fill="none" stroke="#222" stroke-width="4"/>
<g stroke="#000" stroke-width="4">
<line x1="375.5" y1="188.0" x2="567.5" y2="188.0"/>
<line x1="375.5" y1="299.0" x2="567.5" y2="299.0"/>
<line x1="375.5" y1="409.0" x2="567.5" y2="409.0"/>
<line x1="375.5" y1="520.0" x2="567.5" y2="520.0"/>
</g>
<g fill="none" stroke="#000" stroke-width="6" stroke-linejoin="miter">
<circle cx="473.8" cy="190.0" r="12.5"/>
<path d="M473.8,283.3 L459.8,307.6 L487.8,307.6 Z"/>
<rect x="463.9" y="399.1" width="19.8" height="19.8"/>
<path d="M473.8,501.9 L486.2,518.0 L473.8,534.1 L461.4,518.0 Z"/>
</g>
<g font-size="62" fill="#000">
<text x="585" y="209.0" textLength="281.1" lengthAdjust="spacing">Total pores</text>
<text x="585" y="319.3">Gel</text>
<text x="585" y="429.2" textLength="374.5" lengthAdjust="spacing">Small capillary</text>
<text x="585" y="540.0" textLength="376.3" lengthAdjust="spacing">Large capillary</text>
</g>
</svg></body></html>
